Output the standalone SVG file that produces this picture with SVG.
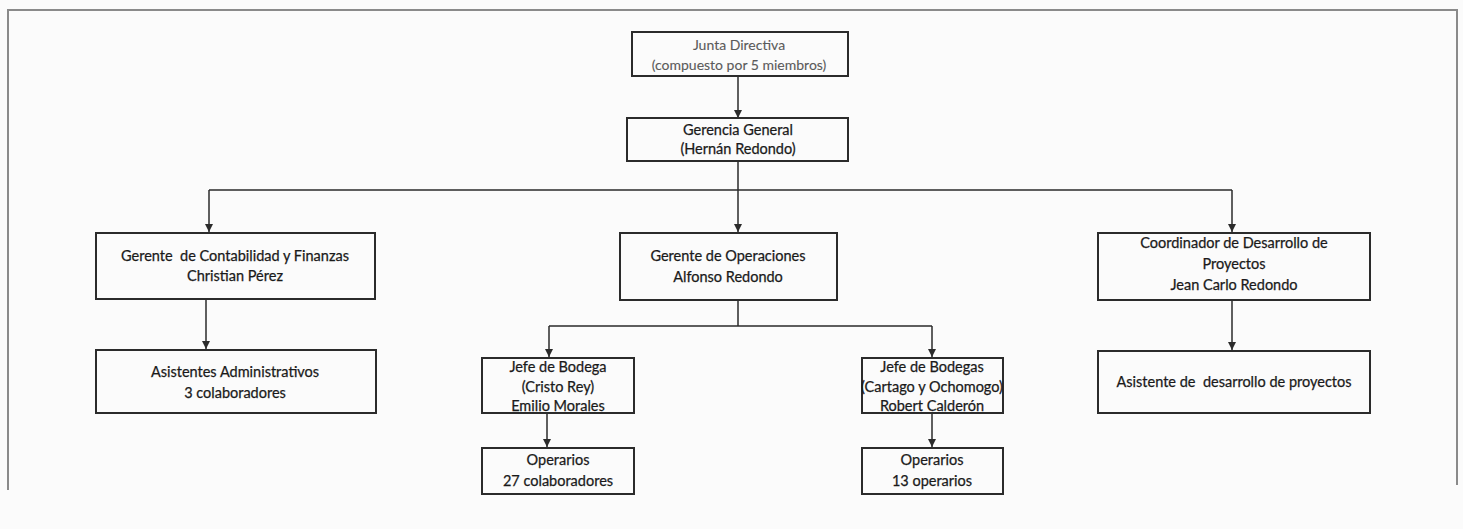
<svg xmlns="http://www.w3.org/2000/svg" width="1463" height="529" viewBox="0 0 1463 529">
<style>
.bg{fill:#fbfbfb}
.frame{fill:none;stroke:#8a8a8a;stroke-width:2}
.box{fill:#fbfbfb;stroke:#2b2b2b;stroke-width:2}
.t{font-family:Lato,"Liberation Sans",sans-serif;font-size:14.5px;fill:#1a1a1a;stroke:#1a1a1a;stroke-width:0.25;text-anchor:middle}
.light{fill:#5a5a5a;stroke:#5a5a5a;stroke-width:0.1;font-size:14px}
.c{fill:none;stroke:#2b2b2b;stroke-width:1.5}
</style>
<defs>
<marker id="ah" markerUnits="userSpaceOnUse" markerWidth="8" markerHeight="8" refX="8" refY="4" orient="auto">
<path d="M0,0 L8,4 L0,8 Z" fill="#2b2b2b"/>
</marker>
</defs>
<rect class="bg" x="0" y="0" width="1463" height="529"/>
<path class="frame" d="M8,490 V10 H1457 V485"/>
<g id="connectors">
<path class="c" d="M738,76 V118" marker-end="url(#ah)"/>
<path class="c" d="M738,161 V190 M209,190 H1232"/>
<path class="c" d="M209,190 V232" marker-end="url(#ah)"/>
<path class="c" d="M738,190 V232" marker-end="url(#ah)"/>
<path class="c" d="M1232,190 V232" marker-end="url(#ah)"/>
<path class="c" d="M206,299 V349" marker-end="url(#ah)"/>
<path class="c" d="M738,300 V326 M549,326 H932"/>
<path class="c" d="M549,326 V357" marker-end="url(#ah)"/>
<path class="c" d="M932,326 V357" marker-end="url(#ah)"/>
<path class="c" d="M547,413 V447" marker-end="url(#ah)"/>
<path class="c" d="M932,413 V447" marker-end="url(#ah)"/>
<path class="c" d="M1232,300 V350" marker-end="url(#ah)"/>
</g>
<g id="junta">
<rect class="box" x="632" y="32" width="216" height="44"/>
<text class="t light" x="739" y="50">Junta Directiva</text>
<text class="t light" x="739" y="70">(compuesto por 5 miembros)</text>
</g>
<g id="gerencia">
<rect class="box" x="627" y="118" width="221" height="43"/>
<text class="t" x="738" y="135">Gerencia General</text>
<text class="t" x="738" y="154">(Hernán Redondo)</text>
</g>
<g id="contabilidad">
<rect class="box" x="96" y="233" width="279" height="66"/>
<text class="t" x="235" y="261" xml:space="preserve">Gerente  de Contabilidad y Finanzas</text>
<text class="t" x="235" y="281">Christian Pérez</text>
</g>
<g id="operaciones">
<rect class="box" x="620" y="233" width="217" height="67"/>
<text class="t" x="728" y="261">Gerente de Operaciones</text>
<text class="t" x="728" y="282">Alfonso Redondo</text>
</g>
<g id="coordinador">
<rect class="box" x="1098" y="233" width="272" height="67"/>
<text class="t" x="1234" y="248">Coordinador de Desarrollo de</text>
<text class="t" x="1234" y="269">Proyectos</text>
<text class="t" x="1234" y="290">Jean Carlo Redondo</text>
</g>
<g id="asistentes">
<rect class="box" x="96" y="350" width="280" height="63"/>
<text class="t" x="235" y="377">Asistentes Administrativos</text>
<text class="t" x="235" y="398">3 colaboradores</text>
</g>
<g id="jefe-bodega">
<rect class="box" x="482" y="358" width="152" height="55"/>
<text class="t" x="558" y="372">Jefe de Bodega</text>
<text class="t" x="558" y="392">(Cristo Rey)</text>
<text class="t" x="558" y="411">Emilio Morales</text>
</g>
<g id="jefe-bodegas">
<rect class="box" x="862" y="358" width="141" height="55"/>
<text class="t" x="932" y="372">Jefe de Bodegas</text>
<text class="t" x="932" y="392">(Cartago y Ochomogo)</text>
<text class="t" x="932" y="411">Robert Calderón</text>
</g>
<g id="asistente-desarrollo">
<rect class="box" x="1098" y="351" width="272" height="62"/>
<text class="t" x="1234" y="387" xml:space="preserve">Asistente de  desarrollo de proyectos</text>
</g>
<g id="operarios-1">
<rect class="box" x="482" y="448" width="152" height="46"/>
<text class="t" x="558" y="465">Operarios</text>
<text class="t" x="558" y="486">27 colaboradores</text>
</g>
<g id="operarios-2">
<rect class="box" x="862" y="448" width="141" height="46"/>
<text class="t" x="932" y="465">Operarios</text>
<text class="t" x="932" y="486">13 operarios</text>
</g>
</svg>
